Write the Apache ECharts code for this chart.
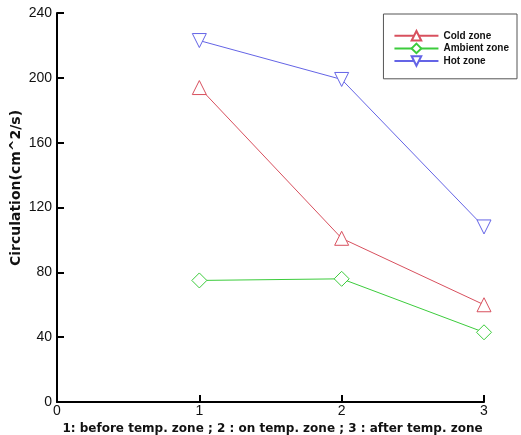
<!DOCTYPE html>
<html>
<head>
<meta charset="utf-8">
<script src="https://cdn.jsdelivr.net/npm/echarts@6/dist/echarts.min.js"></script>
<style>
  html, body { margin: 0; padding: 0; background: #fff; }
  #chart { width: 521px; height: 435px; }
</style>
</head>
<body>
<div id="chart"></div>
<script>
const positions = [1, 2, 3];
const coldZone = [194, 101, 60];
const ambientZone = [75, 76, 43];
const hotZone = [223, 199, 108];
const seriesNames = ['Cold zone', 'Ambient zone', 'Hot zone'];
const xAxisName = '1: before temp. zone ; 2 : on temp. zone ; 3 : after temp. zone';
const yAxisName = 'Circulation(cm^2/s)';

const colors = ['#d8505e', '#3ccc3c', '#6464e6'];
const symbols = ['triangle', 'diamond', 'triangle'];
const rotations = [0, 0, 180];

const chart = echarts.init(document.getElementById('chart'));

function makeSeries(name, values, i) {
  return {
    name: name,
    type: 'line',
    data: positions.map((x, k) => [x, values[k]]),
    symbol: symbols[i],
    symbolRotate: rotations[i],
    symbolSize: i === 1 ? 15 : 14,
    showAllSymbol: true,
    lineStyle: { color: colors[i], width: 1 },
    itemStyle: { color: '#fff', borderColor: colors[i], borderWidth: 1 },
    emphasis: { disabled: true }
  };
}

const axisText = { color: '#111', fontFamily: 'Arial, Liberation Sans, sans-serif', fontSize: 14 };
const boldFont = 'DejaVu Sans, sans-serif';

chart.setOption({
  animation: false,
  backgroundColor: '#fff',
  grid: { left: 57, right: 37, top: 13, bottom: 33, outerBoundsMode: 'none' },
  // y axis title placed by hand, the axis name kept getting pushed left of the labels
  graphic: [{
    type: 'text',
    x: 16,
    y: 188,
    rotation: Math.PI / 2,
    style: {
      text: yAxisName,
      fill: '#111',
      font: 'bold 14px "DejaVu Sans", sans-serif',
      align: 'center',
      verticalAlign: 'middle'
    }
  }],
  legend: {
    orient: 'vertical',
    right: 4,
    top: 14,
    width: 110,
    padding: [16, 8, 12, 10],
    itemGap: 1,
    itemWidth: 44,
    itemHeight: 12,
    borderColor: '#555',
    borderWidth: 1,
    textStyle: { fontSize: 10, fontWeight: 'bold', color: '#111', fontFamily: 'Arial, Liberation Sans, sans-serif' },
    data: seriesNames
  },
  xAxis: {
    type: 'value',
    min: 0,
    max: 3,
    interval: 1,
    name: xAxisName,
    nameLocation: 'middle',
    nameGap: 17,
    nameTextStyle: { fontSize: 12, fontWeight: 'bold', color: '#111', fontFamily: boldFont, padding: [0, 0, 0, 4] },
    axisLine: { onZero: false, lineStyle: { color: '#000', width: 2 } },
    axisTick: { inside: true, length: 7, lineStyle: { color: '#000', width: 2 } },
    axisLabel: Object.assign({ margin: 2 }, axisText),
    splitLine: { show: false }
  },
  yAxis: {
    type: 'value',
    min: 0,
    max: 240,
    interval: 40,
    axisLine: { show: true, onZero: false, lineStyle: { color: '#000', width: 2 } },
    axisTick: { show: true, inside: true, length: 7, lineStyle: { color: '#000', width: 2 } },
    axisLabel: Object.assign({ margin: 5 }, axisText),
    splitLine: { show: false }
  },
  series: [
    makeSeries(seriesNames[0], coldZone, 0),
    makeSeries(seriesNames[1], ambientZone, 1),
    makeSeries(seriesNames[2], hotZone, 2)
  ]
});
</script>
</body>
</html>
